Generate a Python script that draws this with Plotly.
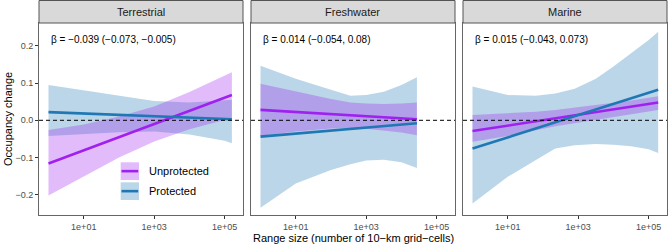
import plotly.graph_objects as go

W, H = 668, 246

panels = ["Terrestrial", "Freshwater", "Marine"]
betas = ["β = −0.039 (−0.073, −0.005)", "β = 0.014 (−0.054, 0.08)", "β = 0.015 (−0.043, 0.073)"]

# Terrestrial
terr_x = [1, 10, 100, 1000, 10000, 100000, 160000]
terr_unprot_hi = [-0.026, -0.011, 0.010, 0.037, 0.076, 0.121, 0.129]
terr_unprot_lo = [-0.202, -0.151, -0.100, -0.057, -0.024, 0.001, 0.006]
terr_prot_hi = [0.095, 0.080, 0.066, 0.052, 0.048, 0.053, 0.055]
terr_prot_lo = [-0.042, -0.036, -0.032, -0.030, -0.038, -0.055, -0.062]
terr_line_x = [1, 160000]
terr_unprot_line = [-0.116, 0.068]
terr_prot_line = [0.022, 0.003]

# Freshwater
fresh_x = [1, 10, 100, 355, 1000, 3160, 10000, 27500]
fresh_prot_hi = [0.147, 0.112, 0.082, 0.066, 0.068, 0.077, 0.095, 0.116]
fresh_prot_lo = [-0.235, -0.170, -0.134, -0.118, -0.108, -0.106, -0.113, -0.128]
fresh_unprot_hi = [0.098, 0.077, 0.057, 0.048, 0.045, 0.044, 0.045, 0.048]
fresh_unprot_lo = [-0.042, -0.030, -0.022, -0.021, -0.023, -0.027, -0.033, -0.040]
fresh_line_x = [1, 27500]
fresh_unprot_line = [0.028, 0.003]
fresh_prot_line = [-0.044, -0.008]

# Marine
marine_x = [1, 10, 63, 224, 794, 3160, 10000, 31600, 100000, 186000]
marine_prot_hi = [0.091, 0.068, 0.066, 0.072, 0.085, 0.112, 0.145, 0.180, 0.216, 0.238]
marine_prot_lo = [-0.224, -0.152, -0.107, -0.076, -0.067, -0.064, -0.066, -0.070, -0.078, -0.088]
marine_unprot_hi = [0.014, 0.018, 0.023, 0.028, 0.035, 0.042, 0.047, 0.053, 0.060, 0.065]
marine_unprot_lo = [-0.058, -0.042, -0.027, -0.016, -0.006, 0.003, 0.010, 0.017, 0.024, 0.028]
marine_line_x = [1, 186000]
marine_unprot_line = [-0.029, 0.048]
marine_prot_line = [-0.076, 0.082]

y_tickvals = [-0.2, -0.1, 0.0, 0.1, 0.2]
y_ticktext = ["−0.2", "−0.1", "0.0", "0.1", "0.2"]
x_tickvals = [10, 1000, 100000]
x_ticktext = ["1e+01", "1e+03", "1e+05"]

data = [
    (terr_x, terr_unprot_hi, terr_unprot_lo, terr_prot_hi, terr_prot_lo, terr_line_x, terr_unprot_line, terr_prot_line),
    (fresh_x, fresh_unprot_hi, fresh_unprot_lo, fresh_prot_hi, fresh_prot_lo, fresh_line_x, fresh_unprot_line, fresh_prot_line),
    (marine_x, marine_unprot_hi, marine_unprot_lo, marine_prot_hi, marine_prot_lo, marine_line_x, marine_unprot_line, marine_prot_line),
]

PURPLE = "#A020F0"
BLUE = "#1F78B4"
PURPLE_FILL = "rgba(160,32,240,0.3)"
BLUE_FILL = "rgba(31,120,180,0.3)"
FONT = "Liberation Sans, Arial, sans-serif"

# panel pixel geometry
px_left = [39, 251, 463]
px_right = [243, 455, 667]
top_px, bot_px = 23, 215

fig = go.Figure()
for i, (x, uh, ul, ph, pl, lx, ul_line, pl_line) in enumerate(data):
    xa = "x" if i == 0 else f"x{i+1}"
    ya = "y" if i == 0 else f"y{i+1}"
    fig.add_trace(go.Scatter(x=list(x) + list(x)[::-1], y=list(ph) + list(pl)[::-1], fill="toself",
                             fillcolor=BLUE_FILL, line=dict(width=0), mode="lines",
                             xaxis=xa, yaxis=ya, showlegend=False, hoverinfo="skip"))
    fig.add_trace(go.Scatter(x=list(x) + list(x)[::-1], y=list(uh) + list(ul)[::-1], fill="toself",
                             fillcolor=PURPLE_FILL, line=dict(width=0), mode="lines",
                             xaxis=xa, yaxis=ya, showlegend=False, hoverinfo="skip"))
    fig.add_trace(go.Scatter(x=lx, y=ul_line, mode="lines", line=dict(color=PURPLE, width=2.6),
                             xaxis=xa, yaxis=ya, showlegend=False, hoverinfo="skip"))
    fig.add_trace(go.Scatter(x=lx, y=pl_line, mode="lines", line=dict(color=BLUE, width=2.6),
                             xaxis=xa, yaxis=ya, showlegend=False, hoverinfo="skip"))

yr = [-(bot_px - 120.3) / 371.75, (120.3 - top_px) / 371.75]
xr = [-0.27, 5.52]

layout = dict(width=W, height=H, margin=dict(l=0, r=0, t=0, b=0), autosize=False,
              paper_bgcolor="white", plot_bgcolor="white",
              font=dict(family=FONT), showlegend=False, hovermode=False)
shapes = []
annotations = []
ydom = [(H - bot_px) / H, (H - top_px) / H]
for i in range(3):
    xk = "xaxis" if i == 0 else f"xaxis{i+1}"
    yk = "yaxis" if i == 0 else f"yaxis{i+1}"
    xa = "x" if i == 0 else f"x{i+1}"
    ya = "y" if i == 0 else f"y{i+1}"
    dom = [px_left[i] / W, px_right[i] / W]
    layout[xk] = dict(domain=dom, anchor=ya, type="log", range=xr, tickvals=x_tickvals, ticktext=x_ticktext,
                      ticks="outside", ticklen=3, tickcolor="#333333", showgrid=False, zeroline=False,
                      showline=True, mirror=True, linecolor="#666666", linewidth=1,
                      tickfont=dict(size=9, color="#4d4d4d"))
    layout[yk] = dict(domain=ydom, anchor=xa, range=yr, tickvals=y_tickvals, ticktext=y_ticktext,
                      ticks="outside" if i == 0 else "", ticklen=3, tickcolor="#333333",
                      showticklabels=(i == 0), showgrid=False, zeroline=False,
                      showline=True, mirror=True, linecolor="#666666", linewidth=1,
                      tickfont=dict(size=9, color="#4d4d4d"))
    shapes.append(dict(type="line", xref=f"{xa} domain", yref=ya, x0=0, x1=1, y0=0, y1=0,
                       line=dict(color="black", width=1, dash="4px,3px"), layer="above"))
    shapes.append(dict(type="rect", xref="paper", yref="paper", x0=dom[0], x1=dom[1],
                       y0=(H - top_px) / H, y1=(H - 0.5) / H, fillcolor="#D9D9D9",
                       line=dict(color="#555555", width=1)))
    annotations.append(dict(text=panels[i], xref="paper", yref="paper", x=(dom[0] + dom[1]) / 2,
                            y=(H - 11.5) / H, showarrow=False, xanchor="center", yanchor="middle",
                            font=dict(size=11, color="#1a1a1a")))
    annotations.append(dict(text=betas[i], xref="paper", yref="paper", x=(px_left[i] + 9.5) / W,
                            y=(H - 39) / H, showarrow=False, xanchor="left", yanchor="middle",
                            font=dict(size=10, color="black")))

def pxx(v):
    return v / W
def pxy(v):
    return (H - v) / H

for (ya0, ya1, fillc, linec, label) in [(162.3, 180, PURPLE_FILL, PURPLE, "Unprotected"),
                                       (182.3, 200, BLUE_FILL, BLUE, "Protected")]:
    shapes.append(dict(type="rect", xref="paper", yref="paper", x0=pxx(120.7), x1=pxx(139),
                       y0=pxy(ya1), y1=pxy(ya0), fillcolor=fillc, line=dict(width=0)))
    ym = (ya0 + ya1) / 2
    shapes.append(dict(type="line", xref="paper", yref="paper", x0=pxx(121.5), x1=pxx(138.2),
                       y0=pxy(ym), y1=pxy(ym), line=dict(color=linec, width=2.6)))
    annotations.append(dict(text=label, xref="paper", yref="paper", x=pxx(147.3), y=pxy(ym),
                            showarrow=False, xanchor="left", yanchor="middle",
                            font=dict(size=11, color="black")))

annotations.append(dict(text="Occupancy change", xref="paper", yref="paper", x=pxx(8), y=pxy(119),
                        showarrow=False, textangle=-90, xanchor="center", yanchor="middle",
                        font=dict(size=11, color="black")))
annotations.append(dict(text="Range size (number of 10−km grid−cells)", xref="paper", yref="paper",
                        x=pxx(353), y=pxy(238), showarrow=False, xanchor="center", yanchor="middle",
                        font=dict(size=11, color="black")))

layout["shapes"] = shapes
layout["annotations"] = annotations
fig.update_layout(**layout)
fig.write_html("out.html", config={"displayModeBar": False, "staticPlot": True},
               post_script="document.body.style.margin='0';document.body.style.padding='0';document.body.style.overflow='hidden';")
